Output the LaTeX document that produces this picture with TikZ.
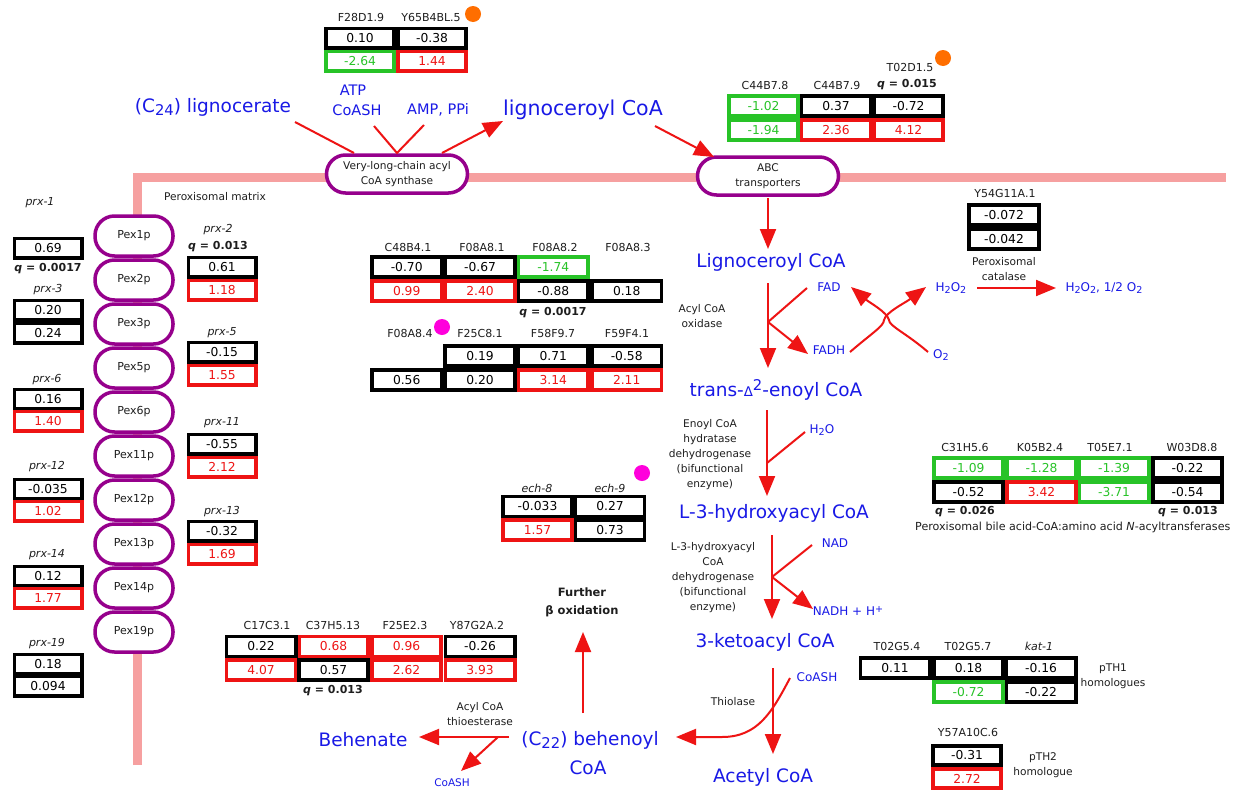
\documentclass[tikz,border=0pt]{standalone}
\usepackage{fontspec}
\setmainfont{DejaVu Sans}
\usetikzlibrary{arrows.meta}

\definecolor{cred}{RGB}{238,20,20}
\definecolor{cgreen}{RGB}{40,195,40}
\definecolor{cblue}{RGB}{25,25,230}
\definecolor{cpurple}{RGB}{150,0,140}
\definecolor{cpink}{RGB}{246,160,160}
\definecolor{corange}{RGB}{255,110,0}
\definecolor{cmagenta}{RGB}{255,0,220}
\definecolor{ctext}{RGB}{30,30,30}

\newcommand{\fs}[2]{\fontsize{#1}{#2}\selectfont}
\newcommand{\dn}[1]{\raisebox{-0.35ex}{\scalebox{0.8}{#1}}}
\newcommand{\up}[1]{\raisebox{0.6ex}{\scalebox{0.8}{#1}}}
\newcommand{\qv}[1]{\textit{q} = #1}

% value cell: colour style, name, x, y, text
\def\cw{69pt}\def\ch{20pt}
\newcommand{\vc}[5]{\node[vcell,#1] (#2) at (#3,#4) {#5};}

\begin{document}
\begin{tikzpicture}[x=1pt,y=-1pt,
  vcell/.style={rectangle, line width=3.6pt, fill=white, inner sep=0pt,
    minimum width=\cw, minimum height=\ch, font=\fs{12.3}{14}},
  ck/.style={draw=black,text=black},
  cr/.style={draw=cred,text=cred},
  cg/.style={draw=cgreen,text=cgreen},
  gene/.style={font=\fs{11}{13}, text=ctext, inner sep=0pt},
  geneit/.style={font=\fs{11}{13}\itshape, text=ctext, inner sep=0pt},
  qlab/.style={font=\fs{11}{13}\bfseries, text=ctext, inner sep=0pt},
  enz/.style={font=\fs{10.6}{15}, text=ctext, align=center, inner sep=0pt},
  met/.style={font=\fs{18.5}{22}, text=cblue, inner sep=0pt},
  metm/.style={font=\fs{14.5}{17}, text=cblue, inner sep=0pt},
  mets/.style={font=\fs{12}{14}, text=cblue, inner sep=0pt},
  memb/.style={draw=cpurple, line width=3.5pt, fill=white, inner sep=0pt,
    font=\fs{10.6}{15}, text=ctext, align=center},
  rl/.style={draw=cred, line width=2pt, line join=round},
  ra/.style={rl, -{Triangle[length=20pt,width=16pt]}},
  gdot/.style={circle, inner sep=0pt, minimum size=16pt}
]
\fill[white] (0,0) rectangle (1234,790);
\useasboundingbox (0,0) rectangle (1234,790);

% peroxisomal membrane
\draw[cpink, line width=9pt] (137,765) -- (137,177) -- (1226,177);
\node[enz] (matrix) at (215,197) {Peroxisomal matrix};

% membrane proteins
\node[memb, minimum width=141pt, minimum height=38pt, rounded corners=19pt] (syn) at (397,174) {Very-long-chain acyl\\CoA synthase};
\node[memb, minimum width=141pt, minimum height=38pt, rounded corners=19pt] (abc) at (768,176) {ABC\\transporters};
\foreach \n [count=\i from 0] in {1,2,3,5,6,11,12,13,14,19}
  \node[memb, font=\fs{11}{13}, minimum width=78pt, minimum height=40pt, rounded corners=19.5pt] (pex\n) at (134,236+44*\i) {Pex\n p};

% acyl CoA synthase genes
\node[gene] (g1) at (361,17) {F28D1.9};
\node[gene] (g2) at (431,17) {Y65B4BL.5};
\node[gdot, fill=corange] (o1) at (473,14) {};
\def\cw{68.4pt}\def\ch{19.4pt}
\vc{ck}{t1a}{360}{38}{0.10}
\vc{ck}{t1b}{432}{38}{-0.38}
\vc{cg}{t1c}{360}{61}{-2.64}
\vc{cr}{t1d}{432}{61}{1.44}

% ABC transporter genes
\node[gene] (g3) at (910,67) {T02D1.5};
\node[gdot, fill=corange] (o2) at (943,58) {};
\node[gene] (g4) at (765,85) {C44B7.8};
\node[gene] (g5) at (837,85) {C44B7.9};
\node[qlab] (q1) at (907,85) {\qv{0.015}};
\def\cw{68.9pt}\def\ch{20.4pt}
\vc{cg}{c1}{763.5}{106}{-1.02}
\vc{ck}{c2}{836}{106}{0.37}
\vc{ck}{c3}{908.5}{106}{-0.72}
\vc{cg}{c4}{763.5}{130}{-1.94}
\vc{cr}{c5}{836}{130}{2.36}
\vc{cr}{c6}{908.5}{130}{4.12}

% prx genes, left column
\def\cw{67.4pt}\def\ch{19.4pt}
\node[geneit] (x1) at (40,203) {prx-1};
\vc{ck}{x1a}{48}{248}{0.69}
\node[qlab] (q2) at (48,269) {\qv{0.0017}};
\node[geneit] (x3) at (48,290) {prx-3};
\vc{ck}{x3a}{48}{310}{0.20}
\vc{ck}{x3b}{48}{333}{0.24}
\node[geneit] (x6) at (47,380) {prx-6};
\vc{ck}{x6a}{48}{399}{0.16}
\vc{cr}{x6b}{48}{421}{1.40}
\node[geneit] (x12) at (47,467) {prx-12};
\vc{ck}{x12a}{48}{489}{-0.035}
\vc{cr}{x12b}{48}{511}{1.02}
\node[geneit] (x14) at (47,555) {prx-14};
\vc{ck}{x14a}{48}{576}{0.12}
\vc{cr}{x14b}{48}{598}{1.77}
\node[geneit] (x19) at (47,644) {prx-19};
\vc{ck}{x19a}{48}{664}{0.18}
\vc{ck}{x19b}{48}{686}{0.094}

% prx genes, right column
\node[geneit] (x2) at (218,230) {prx-2};
\node[qlab] (q3) at (218,247) {\qv{0.013}};
\vc{ck}{x2a}{222}{267}{0.61}
\vc{cr}{x2b}{222}{290}{1.18}
\node[geneit] (x5) at (222,333) {prx-5};
\vc{ck}{x5a}{222}{352}{-0.15}
\vc{cr}{x5b}{222}{375}{1.55}
\node[geneit] (x11) at (222,423) {prx-11};
\vc{ck}{x11a}{222}{444}{-0.55}
\vc{cr}{x11b}{222}{467}{2.12}
\node[geneit] (x13) at (222,512) {prx-13};
\vc{ck}{x13a}{222}{531}{-0.32}
\vc{cr}{x13b}{222}{554}{1.69}

% acyl CoA oxidase genes
\def\cw{69.7pt}\def\ch{20.4pt}
\node[gene] (m1) at (408,247) {C48B4.1};
\node[gene] (m2) at (482,247) {F08A8.1};
\node[gene] (m3) at (555,247) {F08A8.2};
\node[gene] (m4) at (628,247) {F08A8.3};
\vc{ck}{ma1}{406.7}{267}{-0.70}
\vc{ck}{ma2}{480}{267}{-0.67}
\vc{cg}{ma3}{553.3}{267}{-1.74}
\vc{cr}{mb1}{406.7}{291}{0.99}
\vc{cr}{mb2}{480}{291}{2.40}
\vc{ck}{mb3}{553.3}{291}{-0.88}
\vc{ck}{mb4}{626.7}{291}{0.18}
\node[qlab] (q4) at (553,313) {\qv{0.0017}};
\node[gene] (m5) at (410,333) {F08A8.4};
\node[gdot, fill=cmagenta] (o3) at (442,327) {};
\node[gene] (m6) at (480,333) {F25C8.1};
\node[gene] (m7) at (553,333) {F58F9.7};
\node[gene] (m8) at (627,333) {F59F4.1};
\vc{ck}{mc2}{480}{356}{0.19}
\vc{ck}{mc3}{553.3}{356}{0.71}
\vc{ck}{mc4}{626.7}{356}{-0.58}
\vc{ck}{md1}{406.7}{380}{0.56}
\vc{ck}{md2}{480}{380}{0.20}
\vc{cr}{md3}{553.3}{380}{3.14}
\vc{cr}{md4}{626.7}{380}{2.11}

% catalase
\node[gene] (k1) at (1005,193) {Y54G11A.1};
\vc{ck}{ka}{1004}{215}{-0.072}
\vc{ck}{kb}{1004}{239}{-0.042}
\node[enz] (kt) at (1004,269) {Peroxisomal\\catalase};

% enoyl CoA hydratase genes
\def\cw{68.9pt}\def\ch{19.9pt}
\node[geneit] (e1) at (537,488) {ech-8};
\node[geneit] (e2) at (610,488) {ech-9};
\node[gdot, fill=cmagenta] (o4) at (642,473) {};
\vc{ck}{ea1}{537.5}{506.5}{-0.033}
\vc{ck}{ea2}{610}{506.5}{0.27}
\vc{cr}{eb1}{537.5}{530}{1.57}
\vc{ck}{eb2}{610}{530}{0.73}

% bile acid-CoA:amino acid N-acyltransferases
\def\cw{69.4pt}\def\ch{20.4pt}
\node[gene] (b1) at (965,447) {C31H5.6};
\node[gene] (b2) at (1040,447) {K05B2.4};
\node[gene] (b3) at (1110,447) {T05E7.1};
\node[gene] (b4) at (1192,447) {W03D8.8};
\vc{cg}{ba1}{968.5}{468}{-1.09}
\vc{cg}{ba2}{1041.5}{468}{-1.28}
\vc{cg}{ba3}{1114}{468}{-1.39}
\vc{ck}{ba4}{1187.5}{468}{-0.22}
\vc{ck}{bb1}{968.5}{492}{-0.52}
\vc{cr}{bb2}{1041.5}{492}{3.42}
\vc{cg}{bb3}{1114}{492}{-3.71}
\vc{ck}{bb4}{1187.5}{492}{-0.54}
\node[qlab] (q5) at (965,512) {\qv{0.026}};
\node[qlab] (q6) at (1188,512) {\qv{0.013}};
\node[gene, font=\fs{11.1}{13}, anchor=west] (bt) at (915,527) {Peroxisomal bile acid-CoA:amino acid \textit{N}-acyltransferases};

% acyl CoA thioesterase genes
\def\cw{69.4pt}\def\ch{19.9pt}
\node[gene] (h1) at (267,625) {C17C3.1};
\node[gene] (h2) at (333,625) {C37H5.13};
\node[gene] (h3) at (405,625) {F25E2.3};
\node[gene] (h4) at (477,625) {Y87G2A.2};
\vc{cr}{ha2}{333.5}{646.5}{0.68}
\vc{cr}{ha3}{406.5}{646.5}{0.96}
\vc{cr}{hb1}{261}{670}{4.07}
\vc{cr}{hb3}{406.5}{670}{2.62}
\vc{cr}{hb4}{480}{670}{3.93}
\vc{ck}{ha1}{261}{646.5}{0.22}
\vc{ck}{ha4}{480}{646.5}{-0.26}
\vc{ck}{hb2}{333.5}{670}{0.57}
\node[qlab] (q7) at (333,691) {\qv{0.013}};

% thiolase genes
\def\cw{69.4pt}\def\ch{20.4pt}
\node[gene] (p1) at (897,646) {T02G5.4};
\node[gene] (p2) at (968,646) {T02G5.7};
\node[geneit] (p3) at (1039,646) {kat-1};
\vc{ck}{pa1}{895}{668}{0.11}
\vc{ck}{pa2}{968.5}{668}{0.18}
\vc{ck}{pa3}{1041}{668}{-0.16}
\vc{cg}{pb2}{968.5}{692}{-0.72}
\vc{ck}{pb3}{1041}{692}{-0.22}
\node[enz] (pt1) at (1113,676) {pTH1\\homologues};
\def\cw{68.4pt}\def\ch{19.4pt}
\node[gene] (p4) at (968,732) {Y57A10C.6};
\vc{ck}{pc1}{967}{755.5}{-0.31}
\vc{cr}{pc2}{967}{778.5}{2.72}
\node[enz] (pt2) at (1043,765) {pTH2\\homologue};

% metabolites
\node[met] (lgn) at (213,107) {(C\dn{24}) lignocerate};
\node[metm] (atp) at (353,90) {ATP};
\node[metm] (cosh1) at (357,110) {CoASH};
\node[metm] (amp) at (438,110) {AMP, PPi};
\node[met, font=\fs{20.5}{24}] (lcoa1) at (583,110) {lignoceroyl CoA};
\node[met] (lcoa2) at (771,262) {Lignoceroyl CoA};
\node[met] (enoyl) at (776,390) {trans-\scalebox{0.72}{Δ}\up{2}-enoyl CoA};
\node[met] (hyd) at (774,513) {L-3-hydroxyacyl CoA};
\node[met] (keto) at (765,642) {3-ketoacyl CoA};
\node[met] (acet) at (763,777) {Acetyl CoA};
\node[met] (beh) at (363,740) {Behenate};
\node[met] (behc) at (590,740) {(C\dn{22}) behenoyl};
\node[met] (behc2) at (588,768) {CoA};
\node[mets] (fad) at (829,287) {FAD};
\node[mets] (fadh) at (829,350) {FADH};
\node[mets] (hp1) at (951,288) {H\dn{2}O\dn{2}};
\node[mets] (oxy) at (941,355) {O\dn{2}};
\node[mets] (hp2) at (1104,288) {H\dn{2}O\dn{2}, 1/2 O\dn{2}};
\node[mets] (wat) at (822,430) {H\dn{2}O};
\node[mets] (nad) at (835,543) {NAD};
\node[mets] (nadh) at (848,611) {NADH + H\up{+}};
\node[mets] (cosh2) at (817,677) {CoASH};
\node[mets, font=\fs{10.5}{12}] (cosh3) at (452,783) {CoASH};
\node[font=\fs{11.5}{18}\bfseries, text=ctext, align=center, inner sep=0pt] (fbo) at (582,602) {Further\\β oxidation};

% enzyme names
\node[enz] (n1) at (702,316) {Acyl CoA\\oxidase};
\node[enz] (n2) at (710,455) {Enoyl CoA\\hydratase\\dehydrogenase\\(bifunctional\\enzyme)};
\node[enz] (n3) at (713,578) {L-3-hydroxyacyl\\CoA\\dehydrogenase\\(bifunctional\\enzyme)};
\node[enz] (n4) at (733,702) {Thiolase};
\node[enz] (n5) at (480,714) {Acyl CoA\\thioesterase};

% reaction arrows
\coordinate (u1) at (295,122); \coordinate (u2) at (354,153);
\coordinate (u3) at (374,126); \coordinate (u4) at (397,153); \coordinate (u5) at (424,125);
\coordinate (u6) at (442,153); \coordinate (u7) at (503,121);
\coordinate (u8) at (655,126); \coordinate (u9) at (714,157);
\draw[rl] (u1) -- (u2);
\draw[rl] (u3) -- (u4) -- (u5);
\draw[ra] (u6) -- (u7);
\draw[ra] (u8) -- (u9);

\coordinate (v1) at (768,198); \coordinate (v2) at (768,249);
\coordinate (v3) at (768,283); \coordinate (v4) at (768,368);
\coordinate (v5) at (807,288); \coordinate (v6) at (768,322); \coordinate (v7) at (808,354);
\draw[ra] (v1) -- (v2);
\draw[ra] (v3) -- (v4);
\draw[rl] (v5) -- (v6);
\draw[ra] (v6) -- (v7);

% FADH + O2 -> FAD + H2O2: two curves touching in the middle
\coordinate (w1) at (850,352); \coordinate (wl) at (884,320); \coordinate (wr) at (889,320);
\coordinate (w2) at (926,287);
\coordinate (w3) at (928,352); \coordinate (w4) at (851,287);
\draw[ra] (w1) .. controls (872,333) and (884,326) .. (wl) .. controls (886,312) and (905,303) .. (w2);
\draw[ra] (w3) .. controls (906,333) and (889,326) .. (wr) .. controls (887,312) and (870,303) .. (w4);
\coordinate (w5) at (977,288); \coordinate (w6) at (1056,288);
\draw[ra] (w5) -- (w6);

\coordinate (y1) at (767,410); \coordinate (y2) at (767,496);
\coordinate (y3) at (805,432); \coordinate (y4) at (767,463);
\draw[ra] (y1) -- (y2);
\draw[rl] (y3) -- (y4);
\coordinate (z1) at (772,535); \coordinate (z2) at (772,619);
\coordinate (z3) at (812,545); \coordinate (z4) at (772,577); \coordinate (z5) at (813,609);
\draw[ra] (z1) -- (z2);
\draw[rl] (z3) -- (z4);
\draw[ra] (z4) -- (z5);
\coordinate (s1) at (773,668); \coordinate (s2) at (773,754);
\coordinate (s3) at (790,678); \coordinate (s4) at (722,737); \coordinate (s5) at (676,737);
\draw[ra] (s1) -- (s2);
\draw[ra] (s3) .. controls (772,712) and (758,737) .. (s4) -- (s5);

\coordinate (r1) at (583,713); \coordinate (r2) at (583,632);
\coordinate (r3) at (509,737); \coordinate (r4) at (419,737);
\coordinate (r5) at (498,737); \coordinate (r6) at (461,771);
\draw[ra] (r1) -- (r2);
\draw[ra] (r3) -- (r4);
\draw[ra] (r5) -- (r6);
\end{tikzpicture}
\end{document}
